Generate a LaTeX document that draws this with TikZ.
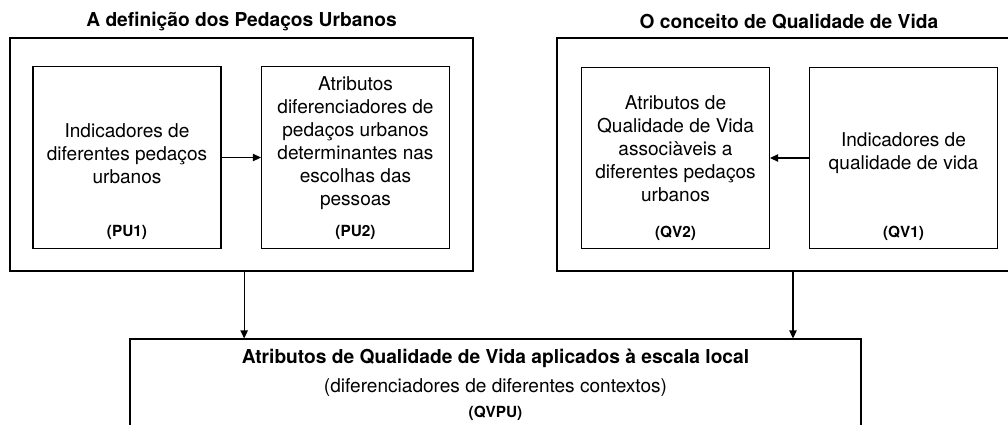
\documentclass[tikz,border=0pt]{standalone}
\usepackage{fontspec}
\setmainfont{TeX Gyre Heros}
\usetikzlibrary{arrows.meta,positioning}

\begin{document}
\begin{tikzpicture}[x=0.75pt,y=0.75pt,line width=0.8pt,
    frame/.style={draw, inner sep=0pt},
    box/.style={draw, inner sep=0pt, minimum width=141pt, minimum height=136pt},
    txt/.style={align=center, font=\fontsize{14.3}{17.2}\selectfont},
    tag/.style={font=\fontsize{11.5}{13.8}\selectfont\bfseries},
    head/.style={font=\fontsize{14.4}{17.2}\selectfont\bfseries},
    link/.style={-{Triangle[length=6pt,width=5.5pt]}}]
    \useasboundingbox (0,0) rectangle (1008,-425);
    \clip (0,0) rectangle (1008,-425);
    % outer frames
    \node [frame, minimum width=347.25pt, minimum height=174.75pt] (pu) at (241.5,-154.5) {};
    \node [frame, minimum width=348pt, minimum height=174.75pt] (qv) at (789,-154.5) {};
    \node [frame, minimum width=548.25pt, minimum height=90.75pt] (qvpu) at (495.5,-399.5) {};
    \node [head] (puhead) at ([yshift=12pt]pu.north) {A definição dos Pedaços Urbanos};
    \node [head] (qvhead) at ([yshift=12pt]qv.north) {O conceito de Qualidade de Vida};
    % inner boxes
    \node [box] (pu1) at (127,-157.5) {};
    \node [box] (pu2) at (355.5,-157.5) {};
    \node [box] (qv2) at (675.5,-158) {};
    \node [box] (qv1) at (903.5,-158) {};
    \node [txt] (pu1txt) at ([yshift=3pt]pu1.center) {Indicadores de\\diferentes pedaços\\urbanos};
    \node [txt] (pu2txt) at ([yshift=11pt]pu2.center) {Atributos\\diferenciadores de\\pedaços urbanos\\determinantes nas\\escolhas das\\pessoas};
    \node [txt] (qv2txt) at ([yshift=6.75pt]qv2.center) {Atributos de\\Qualidade de Vida\\associàveis a\\diferentes pedaços\\urbanos};
    \node [txt] (qv1txt) at ([yshift=3.4pt]qv1.center) {Indicadores de\\qualidade de vida};
    \node [tag] (pu1tag) at ([yshift=12pt]pu1.south) {(PU1)};
    \node [tag] (pu2tag) at ([yshift=12pt]pu2.south) {(PU2)};
    \node [tag] (qv2tag) at ([yshift=12pt]qv2.south) {(QV2)};
    \node [tag] (qv1tag) at ([yshift=12pt]qv1.south) {(QV1)};
    % bottom box
    \node [head] (qvputitle) at ([yshift=-15pt]qvpu.north) {Atributos de Qualidade de Vida aplicados à escala local};
    \node [txt] (qvpusub) at ([yshift=-36.5pt]qvpu.north) {(diferenciadores de diferentes contextos)};
    \node [tag] (qvputag) at ([yshift=-56pt]qvpu.north) {(QVPU)};
    % arrows
    \draw [link] (pu1) -- (pu2);
    \draw [link] (qv1) -- (qv2);
    \draw [link] ([xshift=2pt]pu.south) -- ([xshift=2pt]pu.south |- qvpu.north);
    \draw [link] ([xshift=3pt]qv.south) -- ([xshift=3pt]qv.south |- qvpu.north);
\end{tikzpicture}
\end{document}
